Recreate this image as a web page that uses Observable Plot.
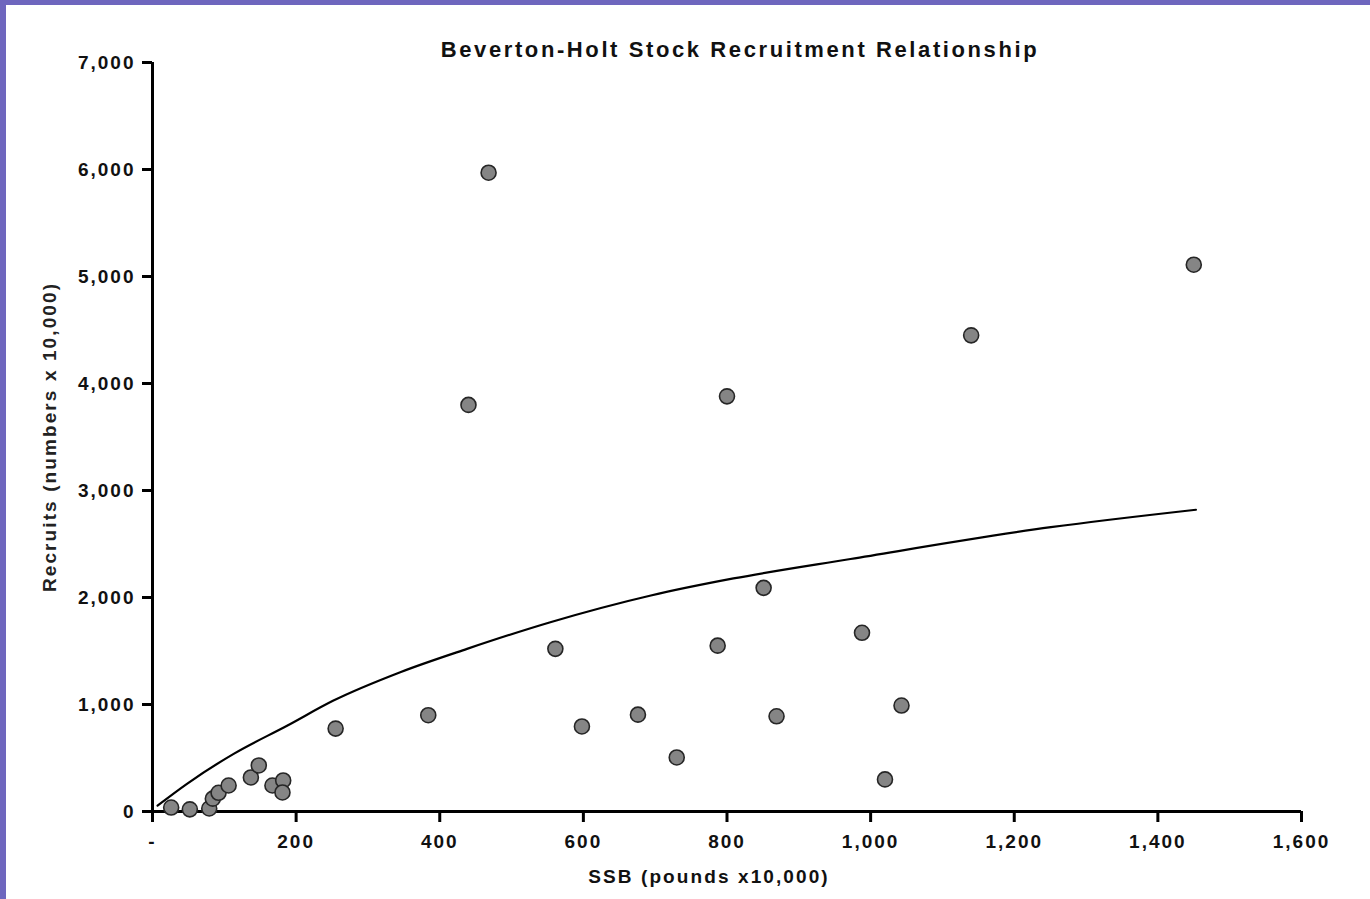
<!DOCTYPE html>
<html>
<head>
<meta charset="utf-8">
<script src="https://cdn.jsdelivr.net/npm/d3@7"></script>
<script src="https://cdn.jsdelivr.net/npm/@observablehq/plot@0.6"></script>
<style>
  html, body { margin: 0; padding: 0; background: #fff; }
  #wrap { position: relative; width: 1370px; height: 899px; overflow: hidden; background: #fff; font-family: "Liberation Sans", Arial, sans-serif; color: #111; }
  #chart { position: absolute; left: 0; top: 0; }
  .lbl { position: absolute; white-space: nowrap; font-size: 19px; font-weight: bold; letter-spacing: 2.1px; line-height: 20px; }
  #title { left: 0; width: 1480px; top: 40px; text-align: center; font-size: 22px; letter-spacing: 2.6px; }
  #xlab { left: 0; width: 1418px; top: 867px; text-align: center; }
  #ylab { left: 50px; top: 437px; transform: translate(-50%, -50%) rotate(-90deg); color: #222; }
  #bt { position: absolute; left: 0; top: 0; width: 1370px; height: 5px; background: #6e66be; }
  #bl { position: absolute; left: 0; top: 0; width: 6px; height: 899px; background: #6e66be; }
</style>
</head>
<body>
<div id="wrap">
  <div id="chart"></div>
  <div id="title" class="lbl">Beverton-Holt Stock Recruitment Relationship</div>
  <div id="xlab" class="lbl">SSB (pounds x10,000)</div>
  <div id="ylab" class="lbl">Recruits (numbers x 10,000)</div>
  <div id="bt"></div>
  <div id="bl"></div>
</div>
<script>
// Observed stock-recruitment pairs
const ssb      = [468, 440, 800, 1140, 1450, 851, 561, 787, 988, 255, 384, 598, 676, 869, 1043, 730, 1020, 26, 52, 79, 84, 92, 106, 137, 148, 167, 182, 181];
const recruits = [5970, 3800, 3880, 4450, 5110, 2090, 1520, 1550, 1670, 775, 900, 795, 905, 890, 990, 505, 300, 37, 20, 28, 120, 175, 243, 318, 430, 243, 290, 178];

// Fitted Beverton-Holt curve
const curveSSB = [7, 48, 113, 188, 252, 345, 438, 554, 694, 809, 972, 1251, 1453];
const curveRec = [55, 259, 539, 804, 1037, 1302, 1520, 1769, 2019, 2178, 2360, 2657, 2820];

const xTicks = [0, 200, 400, 600, 800, 1000, 1200, 1400, 1600];
const yTicks = [0, 1000, 2000, 3000, 4000, 5000, 6000, 7000];

const points = ssb.map((s, i) => ({s, r: recruits[i]}));
const curve = curveSSB.map((s, i) => ({s, r: curveRec[i]}));
const fmt = d3.format(",");

const plot = Plot.plot({
  width: 1370,
  height: 899,
  marginLeft: 152,
  marginRight: 69,
  marginTop: 62,
  marginBottom: 88,
  style: {fontFamily: "'Liberation Sans', Arial, sans-serif", fontSize: "19px", fontWeight: "bold", letterSpacing: "2px", color: "#111", background: "transparent", overflow: "visible"},
  x: {domain: [0, 1600]},
  y: {domain: [0, 7000]},
  marks: [
    Plot.axisX({ticks: xTicks, tickSize: 11, tickPadding: 12, strokeWidth: 3, stroke: "#000", fill: "#111",
      tickFormat: d => d === 0 ? "-" : fmt(d), label: null}),
    Plot.axisY({ticks: yTicks, tickSize: 10, tickPadding: 7, strokeWidth: 3, stroke: "#000", fill: "#111",
      tickFormat: d => fmt(d), label: null}),
    Plot.ruleX([0], {y1: 0, y2: 7000, stroke: "#000", strokeWidth: 3}),
    Plot.ruleY([0], {x1: 0, x2: 1600, stroke: "#000", strokeWidth: 3}),
    Plot.line(curve, {x: "s", y: "r", stroke: "#000", strokeWidth: 2.2, curve: "monotone-x"}),
    Plot.dot(points, {x: "s", y: "r", r: 7.5, fill: "#858585", stroke: "#262626", strokeWidth: 1.6})
  ]
});
document.getElementById("chart").appendChild(plot);
</script>
</body>
</html>
